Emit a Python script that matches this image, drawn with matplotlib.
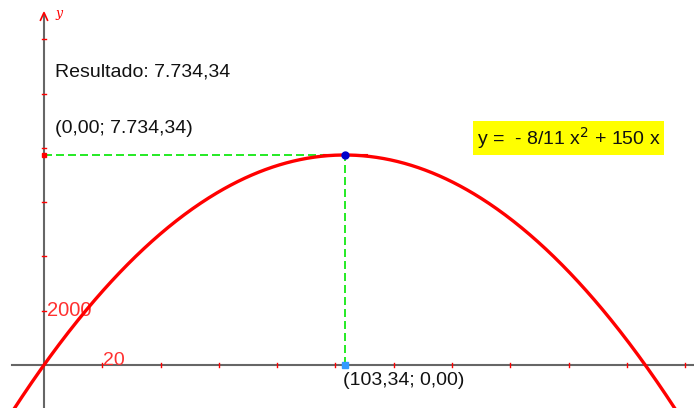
import numpy as np
import matplotlib
matplotlib.use("Agg")
import matplotlib.pyplot as plt

# parabola y = a x^2 + b x
coef_a = -8 / 11
coef_b = 150.0
vertex_x = 103.34
vertex_y = 7734.34

x_ticks = [20, 40, 60, 80, 100, 120, 140, 160, 180, 200, 220]
y_ticks = [2000, 4000, 6000, 8000, 10000, 12000]


def br_num(v):
    # 7734.34 -> "7.734,34"
    s = f"{v:,.2f}"
    return s.replace(",", "#").replace(".", ",").replace("#", ".")


plt.rcParams['font.family'] = ['Liberation Sans', 'DejaVu Sans']

fig = plt.figure(figsize=(6.94, 4.08), dpi=100)
ax = fig.add_axes([0, 0, 1, 1])
ax.set_xlim(-15.09, 222.98)
ax.set_ylim(-1584, 13444)
ax.axis("off")

# axes
ax.plot([-11, 223], [0, 0], color="#666666", lw=1.5, zorder=1)
ax.plot([0, 0], [-1600, 12900], color="#666666", lw=1.5, zorder=1)
ax.plot([-1.2, 0, 1.2], [12700, 12980, 12700], color="red", lw=1.2, zorder=2)
ax.text(5, 12960, "y", color="red", fontsize=9, style="italic",
        family="DejaVu Serif", ha="center", va="center")

# tick marks
for t in x_ticks:
    ax.plot([t, t], [-70, 70], color="red", lw=1, zorder=2)
for t in y_ticks:
    ax.plot([-0.6, 0.6], [t, t], color="red", lw=1, zorder=2)
ax.text(x_ticks[0] + 0.3, 150, str(x_ticks[0]), color="#ff3030", fontsize=14,
        ha="left", va="center")
ax.text(0.9, y_ticks[0], str(y_ticks[0]), color="#ff3030", fontsize=14.5,
        ha="left", va="center")

# curve
xs = np.linspace(-15, 223, 600)
ax.plot(xs, coef_a * xs ** 2 + coef_b * xs, color="red", lw=2.4, zorder=3,
        solid_capstyle="butt")
ax.plot([vertex_x - 7.5, vertex_x + 7.5], [vertex_y + 40, vertex_y + 40],
        color="red", lw=0.8, zorder=3)

# guide lines to the maximum
ax.plot([0, vertex_x], [vertex_y, vertex_y], color="#00e600", lw=1.2,
        ls=(0, (4.8, 2.4)), zorder=2)
ax.plot([vertex_x, vertex_x], [0, vertex_y], color="#00e600", lw=1.2,
        ls=(0, (4.8, 2.4)), zorder=2)
ax.plot(vertex_x, vertex_y, "o", color="#0000cc", ms=5, zorder=5)
ax.plot(0, vertex_y, "s", color="red", ms=3.5, zorder=5)
ax.plot(vertex_x, 0, "s", color="#3399ff", ms=4, zorder=5)

# labels
ax.text(3.7, 10800, "Resultado: " + br_num(vertex_y), fontsize=14,
        color="#111111", ha="left", va="center")
ax.text(3.7, 8700, f"(0,00; {br_num(vertex_y)})", fontsize=14,
        color="#111111", ha="left", va="center")
ax.text(vertex_x - 0.8, -560, f"({br_num(vertex_x)}; 0,00)", fontsize=14,
        color="#111111", ha="left", va="center")
ax.text(148.5, 8360, r"y =  - 8/11 x$^2$ + 150 x", fontsize=14, color="#111111",
        ha="left", va="center",
        bbox=dict(boxstyle="square,pad=0.2", fc="#ffff00", ec="none"))

fig.savefig("out.png", dpi=100)
